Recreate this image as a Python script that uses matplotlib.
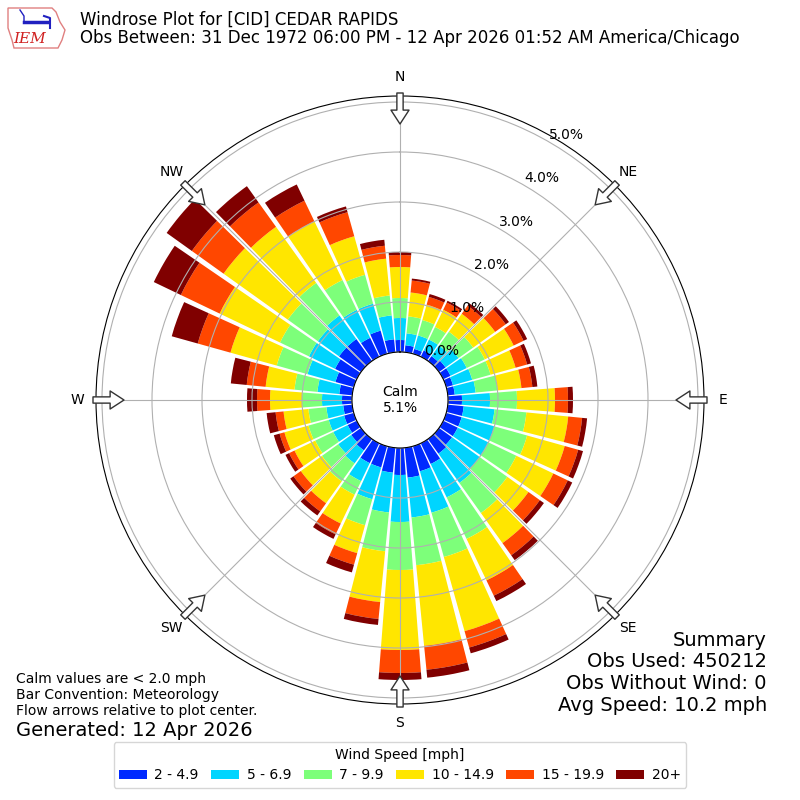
import numpy as np
import matplotlib
matplotlib.use("Agg")
import matplotlib.pyplot as plt
from matplotlib.patches import FancyArrowPatch, Polygon

# direction bins (deg, meteorological), 10 deg wide
directions = np.arange(0, 360, 10)
bin_labels = ["2 - 4.9", "5 - 6.9", "7 - 9.9", "10 - 14.9", "15 - 19.9", "20+"]

# percent of all obs per direction, one list per speed bin
spd_2 = [0.24, 0.14, 0.10, 0.14, 0.12, 0.16, 0.16, 0.14, 0.14, 0.28, 0.32, 0.32,
         0.32, 0.32, 0.36, 0.46, 0.52, 0.60, 0.54, 0.50, 0.44, 0.44, 0.28, 0.24,
         0.20, 0.20, 0.18, 0.20, 0.26, 0.38, 0.48, 0.54, 0.54, 0.42, 0.48, 0.26]
spd_5 = [0.44, 0.24, 0.28, 0.24, 0.26, 0.32, 0.36, 0.40, 0.42, 0.56, 0.62, 0.68,
         0.68, 0.68, 0.72, 0.74, 0.86, 0.80, 0.94, 0.80, 0.66, 0.40, 0.32, 0.32,
         0.32, 0.32, 0.34, 0.40, 0.44, 0.58, 0.58, 0.52, 0.58, 0.62, 0.56, 0.48]
spd_7 = [0.40, 0.34, 0.32, 0.28, 0.34, 0.36, 0.40, 0.38, 0.44, 0.54, 0.64, 0.68,
         0.62, 0.68, 0.74, 0.92, 0.92, 0.96, 0.96, 0.78, 0.54, 0.30, 0.44, 0.40,
         0.40, 0.42, 0.36, 0.40, 0.46, 0.64, 0.64, 0.74, 0.80, 0.66, 0.60, 0.40]
spd_10 = [0.62, 0.48, 0.32, 0.38, 0.44, 0.54, 0.64, 0.52, 0.48, 0.76, 0.84, 0.78,
          0.82, 0.52, 0.74, 0.92, 1.54, 1.62, 1.60, 1.02, 0.58, 0.64, 0.54, 0.52,
          0.46, 0.50, 0.50, 0.64, 0.58, 0.96, 1.34, 1.58, 1.38, 1.30, 0.80, 0.74]
spd_15 = [0.24, 0.24, 0.16, 0.16, 0.20, 0.26, 0.22, 0.24, 0.22, 0.26, 0.28, 0.28,
          0.32, 0.28, 0.30, 0.34, 0.34, 0.48, 0.46, 0.34, 0.24, 0.24, 0.20, 0.18,
          0.12, 0.10, 0.16, 0.26, 0.38, 0.68, 0.86, 0.78, 0.60, 0.46, 0.50, 0.26]
spd_20 = [0.06, 0.04, 0.06, 0.04, 0.06, 0.08, 0.08, 0.08, 0.10, 0.10, 0.10, 0.10,
          0.10, 0.10, 0.12, 0.12, 0.12, 0.16, 0.14, 0.12, 0.16, 0.10, 0.10, 0.08,
          0.08, 0.12, 0.18, 0.20, 0.32, 0.54, 0.60, 0.62, 0.40, 0.36, 0.12, 0.12]
speed_bins = [spd_2, spd_5, spd_7, spd_10, spd_15, spd_20]

rticks = [0, 1, 2, 3, 4, 5]
compass = ["N", "NE", "E", "SE", "S", "SW", "W", "NW"]
calm_pct = 5.1
obs_used = 450212
obs_nowind = 0
avg_speed = 10.2

fig = plt.figure(figsize=(8, 8), dpi=100)
ax = fig.add_axes([0.12, 0.12, 0.76, 0.76], projection="polar")
ax.set_theta_zero_location("N")
ax.set_theta_direction(-1)

theta = np.deg2rad(directions)
width = np.deg2rad(8.8)
colors = plt.cm.jet(np.linspace(0, 1, 7)[1:])
bottom = np.zeros(len(directions))
handles = []
for vals, color, label in zip(speed_bins, colors, bin_labels):
    vals = np.array(vals)
    b = ax.bar(theta, vals, width=width, bottom=bottom, color=color,
               label=label, linewidth=0)
    handles.append(b)
    bottom = bottom + vals

ax.set_rorigin(-0.96)
ax.set_ylim(0, 5.12)
ax.set_yticks(rticks)
ax.set_yticklabels(["%.1f%%" % t for t in rticks], fontsize=10)
ax.set_rlabel_position(30)
ax.set_xticks(np.deg2rad(np.arange(0, 360, 45)))
ax.set_xticklabels(compass, fontsize=10)
ax.tick_params(axis="x", pad=3)
ax.grid(True, color="#b0b0b0", linewidth=0.8)

ax.text(0.5, 0.5, "Calm\n%.1f%%" % calm_pct, transform=ax.transAxes,
        ha="center", va="center", fontsize=10)

# flow arrows at the compass points, pointing to plot center
for d in np.deg2rad(np.arange(0, 360, 45)):
    arr = FancyArrowPatch((d, 5.18), (d, 4.56), transform=ax.transData,
                          arrowstyle="simple,head_length=1.0,head_width=1.3,tail_width=0.45",
                          mutation_scale=10, fc="white", ec="#333333", lw=1,
                          shrinkA=0, shrinkB=0, zorder=6)
    ax.add_artist(arr)
    arr.set_clip_on(False)

# header
fig.text(0.1, 1 - 20 / 800, "Windrose Plot for [CID] CEDAR RAPIDS", fontsize=12, va="center")
fig.text(0.1, 1 - 38 / 800,
         "Obs Between: 31 Dec 1972 06:00 PM - 12 Apr 2026 01:52 AM America/Chicago",
         fontsize=12, va="center")

# rough IEM logo
iowa = np.array([[8, 8], [52, 8], [56, 12], [60, 22], [65, 30], [62, 40],
                 [58, 48], [14, 48], [12, 40], [8, 28]])
logo = Polygon(np.column_stack([iowa[:, 0] / 800, 1 - iowa[:, 1] / 800]), closed=True,
               fill=False, ec="#e08080", lw=1, transform=fig.transFigure)
fig.add_artist(logo)
fig.add_artist(plt.Line2D([24 / 800, 48 / 800], [1 - 22 / 800, 1 - 22 / 800],
                          color="#2020c0", lw=2.5, transform=fig.transFigure))
fig.add_artist(plt.Line2D([20 / 800, 24 / 800, 24 / 800], [1 - 10 / 800, 1 - 16 / 800, 1 - 22 / 800],
                          color="#2020c0", lw=1, transform=fig.transFigure))
fig.add_artist(plt.Line2D([44 / 800, 50 / 800, 50 / 800], [1 - 16 / 800, 1 - 18 / 800, 1 - 28 / 800],
                          color="#2020c0", lw=1.5, transform=fig.transFigure))
fig.text(30 / 800, 1 - 39 / 800, "IEM", color="#d02020", fontsize=11,
         family="serif", style="italic", ha="center", va="center")

# footers
fig.text(16 / 800, 1 - 672 / 800,
         "Calm values are < 2.0 mph\nBar Convention: Meteorology\nFlow arrows relative to plot center.",
         fontsize=10, va="top", linespacing=1.2)
fig.text(16 / 800, 1 - 730 / 800, "Generated: 12 Apr 2026", fontsize=14, va="center")

summary = ["Summary", "Obs Used: %s" % obs_used, "Obs Without Wind: %s" % obs_nowind,
           "Avg Speed: %.1f mph" % avg_speed]
for i, line in enumerate(summary):
    fig.text(767 / 800, 1 - (640 + 21.7 * i) / 800, line, fontsize=14,
             ha="right", va="center")

fig.legend(handles, bin_labels, loc="upper center", bbox_to_anchor=(0.5, 1 - 735 / 800),
           ncol=6, title="Wind Speed [mph]", fontsize=10, title_fontsize=10,
           columnspacing=0.9, handletextpad=0.55)

fig.savefig("out.png", dpi=100)
